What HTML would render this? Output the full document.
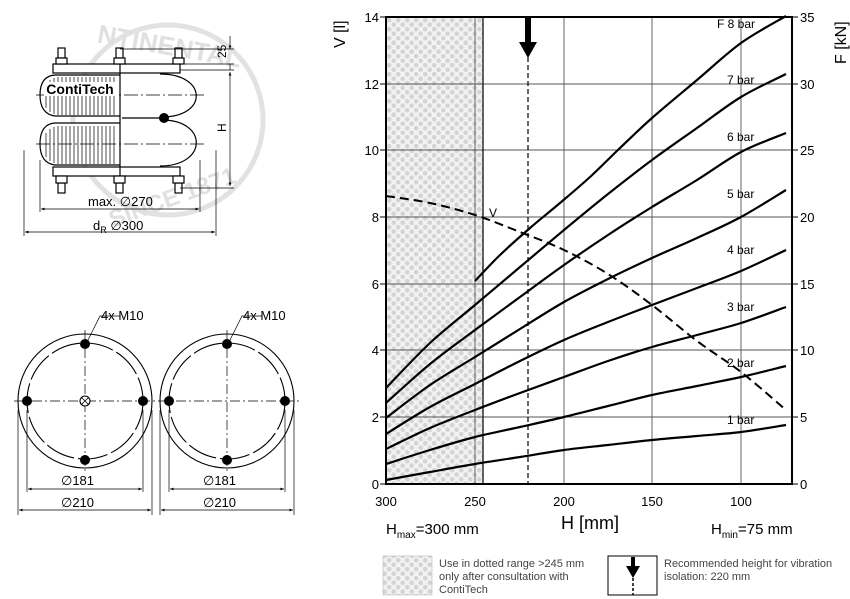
<!DOCTYPE html>
<html><head><meta charset="utf-8"><style>
body{margin:0;background:#fff;}
svg{display:block;font-family:"Liberation Sans",sans-serif;}
</style></head><body>
<svg id="s" width="850" height="599" viewBox="0 0 850 599" xmlns="http://www.w3.org/2000/svg">
<defs>
<pattern id="dots" width="9" height="9" patternUnits="userSpaceOnUse">
<rect width="9" height="9" fill="#f2f2f2"/>
<circle cx="2.2" cy="2.2" r="2.3" fill="#d4d4d4"/><circle cx="6.7" cy="6.7" r="2.3" fill="#d4d4d4"/>
</pattern>
<marker id="ar" viewBox="0 0 10 10" refX="10" refY="5" markerWidth="7" markerHeight="5" orient="auto-start-reverse"><path d="M0,1 L10,5 L0,9z" fill="#000"/></marker>
</defs>

<!-- watermark -->
<circle cx="168" cy="120" r="95" fill="none" stroke="#e2e2e2" stroke-width="5"/>
<text x="168" y="55" font-size="26" fill="#e0e0e0" text-anchor="middle" font-weight="bold" transform="rotate(10 168 55)">NTINENTAL</text>
<text x="175" y="205" font-size="24" fill="#e0e0e0" text-anchor="middle" font-weight="bold" transform="rotate(-20 175 205)">SINCE 1871</text>

<!-- bellows -->
<g stroke="#000" fill="none" stroke-width="1.2">
<rect x="53" y="64" width="127" height="9" fill="#fff"/>
<rect x="53" y="167" width="127" height="9" fill="#fff"/>
<g fill="#fff">
<rect x="58" y="48" width="7" height="10"/><rect x="56" y="58" width="11" height="6"/>
<rect x="116" y="48" width="7" height="10"/><rect x="114" y="58" width="11" height="6"/>
<rect x="175" y="48" width="7" height="10"/><rect x="173" y="58" width="11" height="6"/>
<rect x="58" y="183" width="7" height="10"/><rect x="56" y="176" width="11" height="7"/>
<rect x="116" y="183" width="7" height="10"/><rect x="114" y="176" width="11" height="7"/>
<rect x="175" y="183" width="7" height="10"/><rect x="173" y="176" width="11" height="7"/>
</g>
<path d="M120 75 L55 75 Q40 76 40 95 Q40 114 55 116 L120 116" fill="#fff"/>
<path d="M120 123 L55 123 Q40 124 40 144 Q40 163 55 165 L120 165" fill="#fff"/>
<path d="M160 74 C208 74 208 117 162 117"/>
<path d="M162 120 C208 120 208 166 160 166"/>
<line x1="120" y1="64" x2="120" y2="176"/>
<line x1="122" y1="118" x2="160" y2="118"/>
</g>
<circle cx="164" cy="118" r="5" fill="#000"/>
<g stroke="#000" stroke-width="0.7">
<path d="M46 84v24M50 80v32M54 78v36M58 77v38M62 77v38M66 77v38M70 77v38M74 77v38M78 77v38M82 77v38M86 77v38M90 77v38M94 77v38M98 77v38M102 77v38M106 77v38M110 77v38M114 77v38"/>
<path d="M46 133v24M50 129v32M54 127v36M58 126v38M62 126v38M66 126v38M70 126v38M74 126v38M78 126v38M82 126v38M86 126v38M90 126v38M94 126v38M98 126v38M102 126v38M106 126v38M110 126v38M114 126v38"/>
<path d="M36 95h170M36 144h170" stroke-dasharray="14 3 2 3"/>
</g>
<rect x="44" y="82" width="72" height="14" fill="#fff"/>
<text x="80" y="94" font-size="14" font-weight="bold" text-anchor="middle">ContiTech</text>
<!-- dims -->
<g stroke="#000" stroke-width="0.7" fill="none">
<path d="M120 49H234M120 64H234M180 70H234M180 188H234"/>
<line x1="230" y1="36" x2="230" y2="49" marker-end="url(#ar)"/>
<line x1="230" y1="64" x2="230" y2="70"/>
<line x1="230" y1="72" x2="230" y2="186" marker-start="url(#ar)" marker-end="url(#ar)"/>
<path d="M40 160V212M200 160V212M24 150V236M216 150V236"/>
<line x1="41" y1="209" x2="199" y2="209" marker-start="url(#ar)" marker-end="url(#ar)"/>
<line x1="25" y1="232" x2="215" y2="232" marker-start="url(#ar)" marker-end="url(#ar)"/>
</g>
<text x="226" y="58" font-size="12" transform="rotate(-90 226 58)">25</text>
<text x="226" y="132" font-size="12" transform="rotate(-90 226 132)">H</text>
<text x="88" y="206" font-size="13">max. ∅270</text>
<text x="93" y="230" font-size="13">d<tspan font-size="9" dy="3">R</tspan><tspan dy="-3"> ∅300</tspan></text>

<!-- circles -->
<g stroke="#000" fill="none" stroke-width="1.1">
<circle cx="85" cy="401" r="67"/><circle cx="227" cy="401" r="67"/>
<circle cx="85" cy="401" r="58" stroke-dasharray="30 4"/><circle cx="227" cy="401" r="58" stroke-dasharray="30 4"/>
<path d="M14 401H300M85 330V472M227 330V472" stroke-width="0.7" stroke-dasharray="10 3 2 3"/>
<circle cx="85" cy="401" r="5" fill="#fff"/><path d="M81.5 397.5l7 7M88.5 397.5l-7 7" stroke-width="0.8"/>
<path d="M18 410V515M152 410V515M27 410V492M143 410V492M160 410V515M294 410V515M169 410V492M285 410V492" stroke-width="0.7"/>
<line x1="28" y1="489" x2="142" y2="489" marker-start="url(#ar)" marker-end="url(#ar)" stroke-width="0.7"/>
<line x1="19" y1="510" x2="151" y2="510" marker-start="url(#ar)" marker-end="url(#ar)" stroke-width="0.7"/>
<line x1="170" y1="489" x2="284" y2="489" marker-start="url(#ar)" marker-end="url(#ar)" stroke-width="0.7"/>
<line x1="161" y1="510" x2="293" y2="510" marker-start="url(#ar)" marker-end="url(#ar)" stroke-width="0.7"/>
<path d="M88 340L100 316H120M230 340L242 316H262" stroke-width="0.7"/>
</g>
<g fill="#000">
<circle cx="85" cy="344" r="5"/><circle cx="85" cy="460" r="5"/><circle cx="27" cy="401" r="5"/><circle cx="143" cy="401" r="5"/>
<circle cx="227" cy="344" r="5"/><circle cx="227" cy="460" r="5"/><circle cx="169" cy="401" r="5"/><circle cx="285" cy="401" r="5"/>
</g>
<g font-size="13">
<text x="101" y="320">4x M10</text><text x="243" y="320">4x M10</text>
<text x="61" y="485">∅181</text><text x="61" y="507">∅210</text>
<text x="203" y="485">∅181</text><text x="203" y="507">∅210</text>
</g>

<!-- chart -->
<rect x="386" y="17" width="97" height="467" fill="url(#dots)"/>
<g stroke="#555" stroke-width="0.9">
<path d="M475 17V484M564 17V484M652 17V484M741 17V484"/>
<path d="M386 84H792M386 150H792M386 217H792M386 284H792M386 350H792M386 417H792"/>
</g>
<line x1="483" y1="17" x2="483" y2="484" stroke="#000" stroke-width="1.2"/>
<rect x="386" y="17" width="406" height="467" fill="none" stroke="#000" stroke-width="2"/>
<g stroke="#000" stroke-width="1">
<path d="M380 17H386M380 84H386M380 150H386M380 217H386M380 284H386M380 350H386M380 417H386M380 484H386"/>
<path d="M792 17H798M792 84H798M792 150H798M792 217H798M792 284H798M792 350H798M792 417H798M792 484H798"/>
</g>
<line x1="528" y1="17" x2="528" y2="484" stroke="#000" stroke-width="1.2" stroke-dasharray="5 3"/>
<path d="M525 17H531V42H537L528 58L519 42H525z" fill="#000"/>
<g stroke="#000" stroke-width="2.2" fill="none" stroke-linejoin="round">
<polyline class="sm" points="386,480 430,472 475,464 520,457 564,450 608,445 652,440 697,436 741,432 786,425"/>
<polyline class="sm" points="386,464 430,450 475,437 520,427 564,417 608,406 652,395 697,386 741,377 786,366"/>
<polyline class="sm" points="386,449 430,428 475,410 520,393 564,377 608,361 652,347 697,335 741,323 786,307"/>
<polyline class="sm" points="386,434 430,407 475,384 520,361 564,340 608,322 652,305 697,288 741,271 786,250"/>
<polyline class="sm" points="386,418 430,385 475,357 520,329 564,302 608,279 652,258 697,238 741,217 786,190"/>
<polyline class="sm" points="386,403 430,364 475,330 520,297 564,265 608,235 652,207 697,180 741,152 786,133"/>
<polyline class="sm" points="386,388 430,343 475,305 520,267 564,230 608,194 652,160 697,128 741,97 786,74"/>
<polyline class="sm" points="475,281 500,255 530,228 560,203 590,177 620,148 652,118 697,80 741,43 786,16"/>
</g>
<polyline class="sm" points="386,196 430,203 475,215 520,232 564,250 608,274 652,305 697,341 741,372 786,410" fill="none" stroke="#000" stroke-width="2" stroke-dasharray="9 5"/>
<text x="489" y="217" font-size="12">V</text>
<g font-size="12">
<text x="717" y="28">F 8 bar</text><text x="727" y="84">7 bar</text><text x="727" y="141">6 bar</text>
<text x="727" y="198">5 bar</text><text x="727" y="254">4 bar</text><text x="727" y="311">3 bar</text>
<text x="727" y="367">2 bar</text><text x="727" y="424">1 bar</text>
</g>
<g font-size="13" text-anchor="end">
<text x="379" y="22">14</text><text x="379" y="89">12</text><text x="379" y="155">10</text><text x="379" y="222">8</text>
<text x="379" y="289">6</text><text x="379" y="355">4</text><text x="379" y="422">2</text><text x="379" y="489">0</text>
</g>
<g font-size="13">
<text x="800" y="22">35</text><text x="800" y="89">30</text><text x="800" y="155">25</text><text x="800" y="222">20</text>
<text x="800" y="289">15</text><text x="800" y="355">10</text><text x="800" y="422">5</text><text x="800" y="489">0</text>
</g>
<g font-size="13" text-anchor="middle">
<text x="386" y="506">300</text><text x="475" y="506">250</text><text x="564" y="506">200</text><text x="652" y="506">150</text><text x="741" y="506">100</text>
</g>
<text x="345" y="48" font-size="16" transform="rotate(-90 345 48)">V [l]</text>
<text x="846" y="64" font-size="16" transform="rotate(-90 846 64)">F [kN]</text>
<text x="561" y="529" font-size="18">H [mm]</text>
<text x="386" y="534" font-size="15">H<tspan font-size="10" dy="4">max</tspan><tspan dy="-4">=300 mm</tspan></text>
<text x="711" y="534" font-size="15">H<tspan font-size="10" dy="4">min</tspan><tspan dy="-4">=75 mm</tspan></text>

<!-- legend -->
<rect x="383" y="556" width="49" height="39" fill="url(#dots)" stroke="#aaa" stroke-width="0.5"/>
<g font-size="11" fill="#444">
<text x="439" y="567">Use in dotted range &gt;245 mm</text>
<text x="439" y="580">only after consultation with</text>
<text x="439" y="593">ContiTech</text>
<text x="664" y="567">Recommended height for vibration</text>
<text x="664" y="580">isolation: 220 mm</text>
</g>
<rect x="608" y="556" width="49" height="39" fill="#fff" stroke="#000" stroke-width="1"/>
<path d="M631 557H635V566H640L633 578L626 566H631z" fill="#000"/>
<line x1="633" y1="578" x2="633" y2="595" stroke="#000" stroke-width="1.5" stroke-dasharray="3 2"/>
</svg>
<script>
document.querySelectorAll('polyline.sm').forEach(function(pl){
  var p=pl.getAttribute('points').trim().split(/\s+/).map(function(s){return s.split(',').map(Number);});
  var d='M'+p[0][0]+' '+p[0][1];
  for(var i=0;i<p.length-1;i++){
    var p0=p[i-1]||p[i],p1=p[i],p2=p[i+1],p3=p[i+2]||p2;
    var c1x=p1[0]+(p2[0]-p0[0])/6,c1y=p1[1]+(p2[1]-p0[1])/6;
    var c2x=p2[0]-(p3[0]-p1[0])/6,c2y=p2[1]-(p3[1]-p1[1])/6;
    d+=' C'+c1x+' '+c1y+' '+c2x+' '+c2y+' '+p2[0]+' '+p2[1];
  }
  var path=document.createElementNS('http://www.w3.org/2000/svg','path');
  path.setAttribute('d',d);
  ['fill','stroke','stroke-width','stroke-dasharray'].forEach(function(a){if(pl.getAttribute(a))path.setAttribute(a,pl.getAttribute(a));});
  pl.parentNode.replaceChild(path,pl);
});
</script>
</body></html>
